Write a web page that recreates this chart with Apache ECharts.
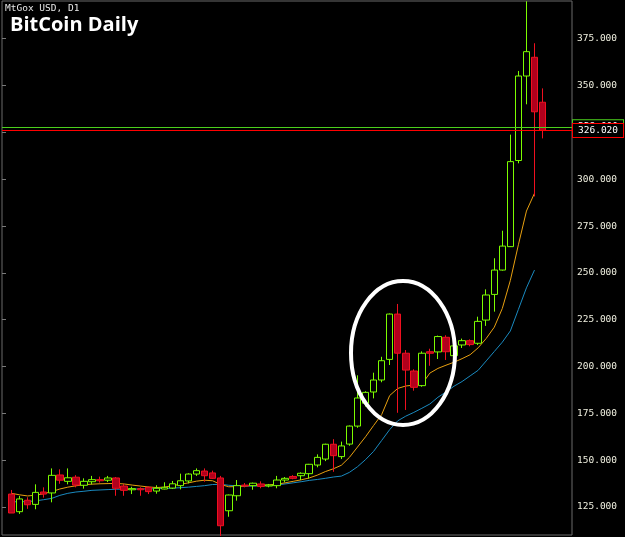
<!DOCTYPE html>
<html>
<head>
<meta charset="utf-8">
<script src="https://cdn.jsdelivr.net/npm/echarts@6/dist/echarts.min.js"></script>
<style>
html,body{margin:0;padding:0;background:#000;}
#chart{width:625px;height:537px;}
</style>
</head>
<body>
<div id="chart"></div>
<script>
// ---- data ----
const dates = [
 '2013-09-06','2013-09-07','2013-09-08','2013-09-09','2013-09-10','2013-09-11','2013-09-12','2013-09-13','2013-09-14','2013-09-15',
 '2013-09-16','2013-09-17','2013-09-18','2013-09-19','2013-09-20','2013-09-21','2013-09-22','2013-09-23','2013-09-24','2013-09-25',
 '2013-09-26','2013-09-27','2013-09-28','2013-09-29','2013-09-30','2013-10-01','2013-10-02','2013-10-03','2013-10-04','2013-10-05',
 '2013-10-06','2013-10-07','2013-10-08','2013-10-09','2013-10-10','2013-10-11','2013-10-12','2013-10-13','2013-10-14','2013-10-15',
 '2013-10-16','2013-10-17','2013-10-18','2013-10-19','2013-10-20','2013-10-21','2013-10-22','2013-10-23','2013-10-24','2013-10-25',
 '2013-10-26','2013-10-27','2013-10-28','2013-10-29','2013-10-30','2013-10-31','2013-11-01','2013-11-02','2013-11-03','2013-11-04',
 '2013-11-05','2013-11-06','2013-11-07','2013-11-08','2013-11-09','2013-11-10','2013-11-11'
];
const openP = [131.9,122.5,128.6,126.4,133.0,132.5,142.1,138.7,140.9,136.6,
 138.5,139.6,139.3,140.5,136.2,134.2,134.8,135.5,133.5,134.6,
 135.1,136.4,138.9,142.6,144.2,143.2,140.5,123.0,131.0,136.7,
 136.4,137.3,136.2,136.4,139.4,141.3,141.7,142.8,147.4,150.6,
 158.5,151.9,158.6,168.2,180.4,186.4,192.8,203.8,228.0,207.1,
 197.6,189.8,207.9,207.8,215.6,205.8,211.5,213.8,212.4,224.8,
 238.5,251.5,264.0,310.0,355.1,365.1,341.1];
const closeP = [121.8,129.3,126.2,132.8,131.9,141.9,139.3,140.6,136.7,138.7,
 139.6,139.0,140.5,135.0,133.9,134.8,134.2,133.2,135.0,135.5,
 137.4,139.0,142.6,144.4,141.7,140.3,115.0,131.4,136.4,136.2,
 137.7,136.0,136.7,139.4,140.3,140.3,143.0,147.8,151.5,158.5,
 152.4,157.6,168.2,183.2,186.2,192.8,203.1,228.0,207.1,198.1,
 188.9,207.1,207.1,216.0,207.9,211.0,213.8,211.7,224.1,238.2,
 251.5,264.3,309.4,355.1,368.1,336.0,326.02];
const lowP = [121.8,121.3,124.0,123.8,130.0,127.5,137.4,137.1,135.5,134.8,
 137.1,138.0,138.3,131.0,131.0,131.9,131.0,131.9,132.1,134.4,
 134.6,134.4,137.6,141.6,138.5,140.0,109.5,119.8,128.4,135.5,
 134.2,135.0,135.5,135.0,138.2,139.8,139.4,140.2,146.2,149.5,
 143.8,150.6,157.7,167.3,178.6,183.0,191.6,200.8,175.3,176.8,
 187.1,189.2,200.4,204.0,203.5,204.5,209.9,210.8,211.5,221.7,
 229.3,251.2,263.8,308.5,340.0,290.8,321.8];
const highP = [134.1,130.9,130.2,137.1,135.5,145.6,145.1,145.6,142.0,140.3,
 141.6,141.2,141.6,141.0,137.3,135.8,135.5,136.0,136.6,138.2,
 138.9,142.8,143.0,145.6,145.6,144.4,141.6,131.6,139.4,137.8,
 138.0,138.7,137.3,141.6,141.0,142.0,143.5,148.0,153.1,158.8,
 161.2,159.9,168.5,195.3,186.8,196.7,205.2,228.3,233.4,208.8,
 198.5,208.1,209.5,216.5,216.7,211.5,214.9,214.5,226.6,241.2,
 257.8,272.5,323.8,357.8,395.0,372.6,348.5];
const maFast = [132.3,131.5,130.9,131.3,132.1,133.2,134.6,135.6,136.3,136.9,
 137.2,137.4,137.5,137.6,137.3,136.7,136.2,135.7,135.4,135.6,
 136.4,137.1,137.9,138.8,139.3,139.0,137.0,135.8,135.9,136.2,
 136.6,136.7,136.8,137.2,137.9,138.7,139.5,140.5,142.0,143.9,
 145.4,147.3,151.5,157.0,162.5,168.5,174.3,184.5,188.3,189.6,
 190.1,190.5,196.5,199.0,200.7,202.3,204.2,206.3,210.0,215.0,
 221.0,231.0,246.0,265.0,283.0,292.5,null];
const maSlow = [127.8,127.8,127.9,128.3,128.9,129.6,131.2,132.3,133.0,133.4,
 133.9,134.1,134.3,134.5,134.55,134.6,134.6,134.7,134.8,134.9,
 135.1,135.3,135.6,136.0,136.4,137.0,137.1,136.6,136.3,136.2,
 136.2,136.3,136.4,136.8,137.3,137.9,138.5,139.2,139.7,140.3,
 141.0,141.5,143.5,146.5,150.3,154.7,160.5,166.3,171.0,173.5,
 175.5,177.7,180.0,183.6,186.4,189.5,192.0,195.0,198.0,203.0,
 208.0,213.0,219.0,230.5,242.0,251.5,null];
const padCount = 3;
const yTicks = [125,150,175,200,225,250,275,300,325,350,375];
const bidPrice = 326.02;
const askPrice = 328.0;

// ---- build ----
const cats = dates.concat(Array(padCount).fill(''));
const candleData = dates.map((d,i)=>[openP[i],closeP[i],lowP[i],highP[i]]);
const pad = arr => arr.concat(Array(padCount).fill(null));
const yMin = 110.05, yMax = 395.15;
const mono = 'DejaVu Sans Mono';

const chart = echarts.init(document.getElementById('chart'), null, {renderer:'canvas'});
chart.setOption({
  backgroundColor:'#000',
  animation:false,
  title:[
    {text:'MtGox USD, D1', left:5, top:4, padding:0, textStyle:{color:'#e6e6e6', fontFamily:mono, fontSize:9.5, fontWeight:'normal'}},
    {text:'BitCoin Daily', left:10, top:15, padding:0, textStyle:{color:'#ffffff', fontFamily:'Open Sans', fontSize:20, fontWeight:'bold'}}
  ],
  grid:[
    {left:2, right:53, top:1, bottom:2, show:true, borderColor:'#6a6a6a', borderWidth:1, backgroundColor:'transparent'},
    {left:7.5, right:54.3, top:1, bottom:2}
  ],
  xAxis:[
    {type:'value', gridIndex:0, min:0, max:1, show:false},
    {type:'category', gridIndex:1, data:cats, show:false, boundaryGap:true}
  ],
  yAxis:[
    {type:'value', gridIndex:0, position:'right', min:yMin, max:yMax, splitLine:{show:false},
     axisLine:{show:false},
     axisTick:{show:true, length:4, lineStyle:{color:'#7a7a7a'}, customValues:yTicks},
     axisLabel:{color:'#f0f0e0', fontFamily:mono, fontSize:9.5, margin:5, customValues:yTicks,
       formatter:v=>Number(v).toFixed(3)}},
    {type:'value', gridIndex:1, min:yMin, max:yMax, show:false, splitLine:{show:false}}
  ],
  series:[
    {type:'line', xAxisIndex:0, yAxisIndex:0, data:[], silent:true,
     markLine:{symbol:'none', silent:true, animation:false,
       data:[
         {yAxis:askPrice, lineStyle:{color:'#4cd11c', type:'solid', width:1},
          label:{show:true, position:'end', distance:1, formatter:askPrice.toFixed(3), color:'#fff', fontFamily:mono, fontSize:9.5,
                 backgroundColor:'#000', borderColor:'#4cd11c', borderWidth:1, padding:[2,5,1,5]}},
         {yAxis:bidPrice, lineStyle:{color:'#ff0000', type:'solid', width:1},
          label:{show:true, position:'end', distance:1, formatter:bidPrice.toFixed(3), color:'#fff', fontFamily:mono, fontSize:9.5,
                 backgroundColor:'#000', borderColor:'#ff0000', borderWidth:1, padding:[2,5,1,5]}}
       ]}
    },
    {type:'line', name:'MA slow', xAxisIndex:1, yAxisIndex:1, data:pad(maSlow), showSymbol:false, smooth:false,
     lineStyle:{color:'#1a8ac0', width:1}, z:2},
    {type:'line', name:'MA fast', xAxisIndex:1, yAxisIndex:1, data:pad(maFast), showSymbol:false, smooth:false,
     lineStyle:{color:'#e8a010', width:1}, z:2},
    {type:'candlestick', xAxisIndex:1, yAxisIndex:1, data:candleData, barWidth:7, z:3,
     itemStyle:{color:'#000', color0:'#b2001c', borderColor:'#7cfc00', borderColor0:'#f01020', borderWidth:1}}
  ],
  graphic:[
    {type:'ellipse', z:100, shape:{cx:403, cy:353, rx:52, ry:72}, style:{fill:null, stroke:'#ffffff', lineWidth:4}}
  ]
});
</script>
</body>
</html>
